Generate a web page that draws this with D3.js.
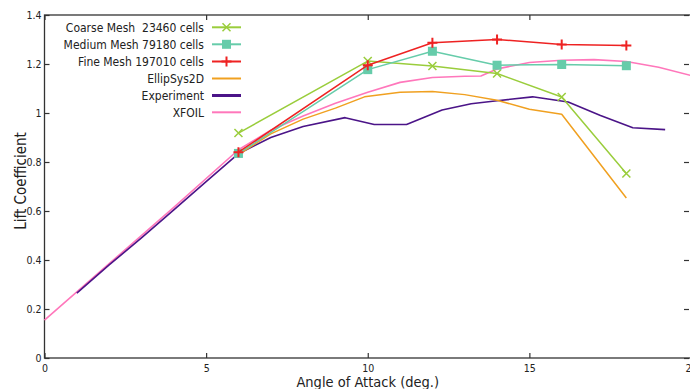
<!DOCTYPE html>
<html><head><meta charset="utf-8">
<script src="https://cdn.jsdelivr.net/npm/d3@7"></script>
<style>
html,body{margin:0;padding:0;background:#fff;}
svg{display:block;}
text{font-family:"Liberation Sans Narrow","DejaVu Sans Condensed","Liberation Sans",sans-serif;fill:#222;}
</style></head>
<body>
<svg id="c" width="690" height="389"></svg>
<script>
// ---- data ----
const seriesNames = ["Coarse Mesh  23460 cells","Medium Mesh 79180 cells","Fine Mesh 197010 cells","EllipSys2D","Experiment","XFOIL"];
const coarseAoA = [6,10,12,14,16,18];
const coarseCl  = [0.918,1.212,1.192,1.161,1.065,0.753];
const mediumAoA = [6,10,12,14,16,18];
const mediumCl  = [0.835,1.177,1.252,1.195,1.198,1.193];
const fineAoA   = [6,10,12,14,16,18];
const fineCl    = [0.84,1.195,1.287,1.3,1.28,1.276];
const ellipAoA  = [6,7,8,9,9.9,11,12,13,14,15,16,18];
const ellipCl   = [0.83,0.915,0.975,1.02,1.066,1.085,1.088,1.075,1.052,1.015,0.995,0.653];
const expAoA    = [1,2,3,4,5,6,7,8,9.3,10.2,11.2,12.3,13.2,14,15.1,16.2,17.2,18.2,19.2];
const expCl     = [0.265,0.38,0.49,0.605,0.72,0.834,0.9,0.945,0.981,0.953,0.953,1.012,1.038,1.05,1.066,1.045,0.99,0.94,0.932];
const xfoilAoA  = [0,2,4,6,7,8,9,10,11,12,13,13.5,14,15,16,17,18,19,20];
const xfoilCl   = [0.155,0.385,0.615,0.85,0.93,0.988,1.04,1.085,1.125,1.145,1.15,1.151,1.18,1.206,1.215,1.218,1.21,1.187,1.153];
const xTicks = [0,5,10,15,20];
const yTicks = [0,0.2,0.4,0.6,0.8,1,1.2,1.4];
const xTitle = "Angle of Attack (deg.)";
const yTitle = "Lift Coefficient";

const colors = ["#9acd3c","#66ccaa","#ee2222","#f0a020","#4b1488","#ff77bb"];
const markers = ["x","square","plus",null,null,null];
const widths = [1.5,1.5,1.5,1.5,1.6,1.6];

const svg = d3.select("#c");
const L=44.5, R=691, T=15, B=358;
const x = d3.scaleLinear().domain([0,20]).range([L,R]);
const y = d3.scaleLinear().domain([0,1.4]).range([B,T]);

// axes (ticks inward, mirrored)
const fmt = d => d3.format("~g")(d);
const ax = svg.append("g");
ax.append("g").attr("transform",`translate(0,${B})`)
  .call(d3.axisBottom(x).tickValues(xTicks).tickFormat(fmt).tickSize(-5).tickPadding(8))
  .call(g=>{g.select(".domain").remove();g.selectAll("text").style("font-size","10.5px").attr("dy","0.6em");});
ax.append("g").attr("transform",`translate(0,${T})`)
  .call(d3.axisTop(x).tickValues(xTicks).tickFormat("").tickSize(-5))
  .call(g=>g.select(".domain").remove());
ax.append("g").attr("transform",`translate(${L},0)`)
  .call(d3.axisLeft(y).tickValues(yTicks).tickFormat(fmt).tickSize(-5).tickPadding(3))
  .call(g=>{g.select(".domain").remove();g.selectAll("text").style("font-size","10.5px");});
ax.append("g").attr("transform",`translate(${R-2},0)`)
  .call(d3.axisRight(y).tickValues(yTicks).tickFormat("").tickSize(-5))
  .call(g=>g.select(".domain").remove());
ax.selectAll(".tick line").attr("stroke","#333").attr("stroke-width",1.2);
svg.append("rect").attr("x",L).attr("y",T).attr("width",R-L).attr("height",B-T)
  .attr("fill","none").attr("stroke","#333").attr("stroke-width",1.3);

svg.append("text").attr("x",x(10)).attr("y",386.5).attr("text-anchor","middle")
  .style("font-size","14.5px").text(xTitle);
svg.append("text").attr("transform",`translate(26,${181}) rotate(-90)`).attr("text-anchor","middle")
  .style("font-size","15px").text(yTitle);

// series
const series = [
  [coarseAoA,coarseCl],[mediumAoA,mediumCl],[fineAoA,fineCl],
  [ellipAoA,ellipCl],[expAoA,expCl],[xfoilAoA,xfoilCl]
];
const line = d3.line().x(d=>x(d[0])).y(d=>y(d[1]));
const plot = svg.append("g");
function drawMarker(g,type,cx,cy,col){
  if(type==="x"){
    const s=4;
    g.append("path").attr("d",`M${cx-s},${cy-s}L${cx+s},${cy+s}M${cx-s},${cy+s}L${cx+s},${cy-s}`)
     .attr("stroke",col).attr("stroke-width",1.5).attr("fill","none");
  } else if(type==="square"){
    const s=4.5;
    g.append("rect").attr("x",cx-s).attr("y",cy-s).attr("width",2*s).attr("height",2*s).attr("fill",col);
  } else if(type==="plus"){
    const s=5;
    g.append("path").attr("d",`M${cx-s},${cy}L${cx+s},${cy}M${cx},${cy-s}L${cx},${cy+s}`)
     .attr("stroke",col).attr("stroke-width",2).attr("fill","none");
  }
}
const order=[5,4,3,0,1,2];
order.forEach(i=>{
  const pts = series[i][0].map((a,k)=>[a,series[i][1][k]]);
  plot.append("path").datum(pts).attr("d",line).attr("fill","none")
    .attr("stroke",colors[i]).attr("stroke-width",widths[i]).attr("stroke-linejoin","round");
  if(markers[i]) pts.forEach(p=>drawMarker(plot,markers[i],x(p[0]),y(p[1]),colors[i]));
});

// legend
const leg = svg.append("g");
const rowY = [27.3,44.3,61.5,78.5,95.5,112.3];
seriesNames.forEach((n,i)=>{
  const yy=rowY[i];
  leg.append("text").attr("x",204).attr("y",yy).attr("dy","0.36em").attr("text-anchor","end")
     .style("font-size","12px").style("white-space","pre").text(n);
  leg.append("line").attr("x1",212).attr("x2",241).attr("y1",yy).attr("y2",yy)
     .attr("stroke",colors[i]).attr("stroke-width",i===4?3:2);
  if(markers[i]) drawMarker(leg,markers[i],226.5,yy,colors[i]);
});
</script>
</body></html>
